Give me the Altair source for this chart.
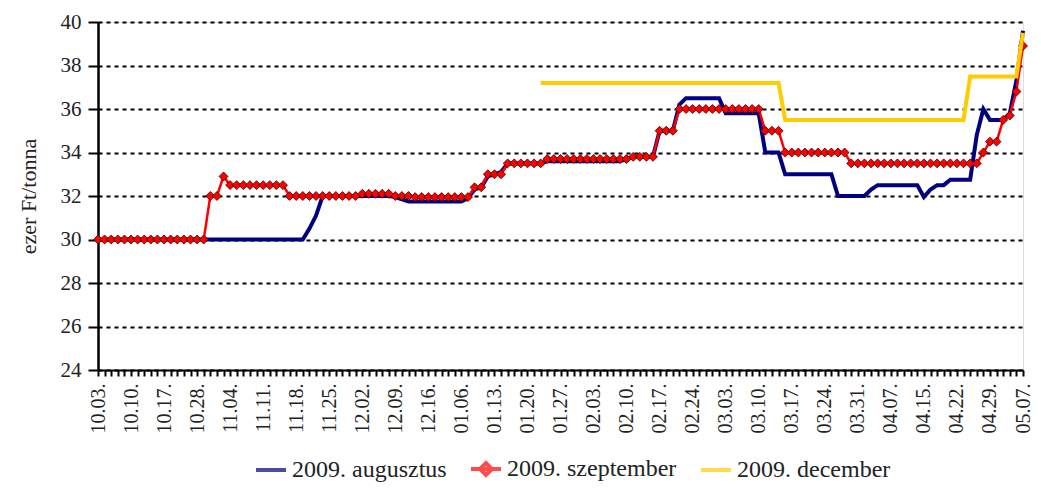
import altair as alt
import pandas as pd

SERIES = ["2009. augusztus", "2009. szeptember", "2009. december"]
COLORS = ["#000080", "#ff0000", "#ffcc00"]

TICK_LABELS = ["10.03.", "10.10.", "10.17.", "10.28.", "11.04.", "11.11.", "11.18.", "11.25.",
               "12.02.", "12.09.", "12.16.", "01.06.", "01.13.", "01.20.", "01.27.", "02.03.",
               "02.10.", "02.17.", "02.24.", "03.03.", "03.10.", "03.17.", "03.24.", "03.31.",
               "04.07.", "04.15.", "04.22.", "04.29.", "05.07."]

# one value per trading day (index 0 = 10.03., index 140 = 05.07.)
AUG = [
    30.0, 30.0, 30.0, 30.0, 30.0, 30.0, 30.0, 30.0, 30.0, 30.0,
    30.0, 30.0, 30.0, 30.0, 30.0, 30.0, 30.0, 30.0, 30.0, 30.0,
    30.0, 30.0, 30.0, 30.0, 30.0, 30.0, 30.0, 30.0, 30.0, 30.0,
    30.0, 30.0, 30.5, 31.1, 32.0, 32.0, 32.0, 32.0, 32.0, 32.0,
    32.0, 32.0, 32.0, 32.0, 32.0, 31.95, 31.85, 31.75, 31.75, 31.75,
    31.75, 31.75, 31.75, 31.75, 31.75, 31.75, 31.9, 32.3, 32.4, 32.9,
    33.0, 33.1, 33.5, 33.5, 33.5, 33.5, 33.5, 33.5, 33.6, 33.6,
    33.6, 33.6, 33.6, 33.6, 33.6, 33.6, 33.6, 33.6, 33.6, 33.6,
    33.7, 33.8, 33.8, 33.8, 33.8, 35.0, 35.0, 35.0, 36.2, 36.5,
    36.5, 36.5, 36.5, 36.5, 36.5, 35.8, 35.8, 35.8, 35.8, 35.8,
    35.8, 34.0, 34.0, 34.0, 33.0, 33.0, 33.0, 33.0, 33.0, 33.0,
    33.0, 33.0, 32.0, 32.0, 32.0, 32.0, 32.0, 32.3, 32.5, 32.5,
    32.5, 32.5, 32.5, 32.5, 32.5, 31.95, 32.3, 32.5, 32.5, 32.75,
    32.75, 32.75, 32.75, 34.8, 36.0, 35.5, 35.5, 35.5, 35.8, 37.3,
    39.6,
]
SZEPT = [
    30.0, 30.0, 30.0, 30.0, 30.0, 30.0, 30.0, 30.0, 30.0, 30.0,
    30.0, 30.0, 30.0, 30.0, 30.0, 30.0, 30.0, 32.0, 32.0, 32.9,
    32.5, 32.5, 32.5, 32.5, 32.5, 32.5, 32.5, 32.5, 32.5, 32.0,
    32.0, 32.0, 32.0, 32.0, 32.0, 32.0, 32.0, 32.0, 32.0, 32.0,
    32.1, 32.1, 32.1, 32.1, 32.1, 32.0, 32.0, 32.0, 31.95, 31.95,
    31.95, 31.95, 31.95, 31.95, 31.95, 31.95, 31.95, 32.4, 32.4, 33.0,
    33.0, 33.0, 33.5, 33.5, 33.5, 33.5, 33.5, 33.5, 33.7, 33.7,
    33.7, 33.7, 33.7, 33.7, 33.7, 33.7, 33.7, 33.7, 33.7, 33.7,
    33.7, 33.8, 33.8, 33.8, 33.8, 35.0, 35.0, 35.0, 36.0, 36.0,
    36.0, 36.0, 36.0, 36.0, 36.0, 36.0, 36.0, 36.0, 36.0, 36.0,
    36.0, 35.0, 35.0, 35.0, 34.0, 34.0, 34.0, 34.0, 34.0, 34.0,
    34.0, 34.0, 34.0, 34.0, 33.5, 33.5, 33.5, 33.5, 33.5, 33.5,
    33.5, 33.5, 33.5, 33.5, 33.5, 33.5, 33.5, 33.5, 33.5, 33.5,
    33.5, 33.5, 33.5, 33.5, 34.0, 34.5, 34.5, 35.5, 35.7, 36.8,
    38.9,
]
DEC = [
    None, None, None, None, None, None, None, None, None, None,
    None, None, None, None, None, None, None, None, None, None,
    None, None, None, None, None, None, None, None, None, None,
    None, None, None, None, None, None, None, None, None, None,
    None, None, None, None, None, None, None, None, None, None,
    None, None, None, None, None, None, None, None, None, None,
    None, None, None, None, None, None, None, 37.2, 37.2, 37.2,
    37.2, 37.2, 37.2, 37.2, 37.2, 37.2, 37.2, 37.2, 37.2, 37.2,
    37.2, 37.2, 37.2, 37.2, 37.2, 37.2, 37.2, 37.2, 37.2, 37.2,
    37.2, 37.2, 37.2, 37.2, 37.2, 37.2, 37.2, 37.2, 37.2, 37.2,
    37.2, 37.2, 37.2, 37.2, 35.5, 35.5, 35.5, 35.5, 35.5, 35.5,
    35.5, 35.5, 35.5, 35.5, 35.5, 35.5, 35.5, 35.5, 35.5, 35.5,
    35.5, 35.5, 35.5, 35.5, 35.5, 35.5, 35.5, 35.5, 35.5, 35.5,
    35.5, 35.5, 37.5, 37.5, 37.5, 37.5, 37.5, 37.5, 37.5, 37.5,
    39.5,
]
Y_TICKS = [24, 26, 28, 30, 32, 34, 36, 38, 40]

rows = []
for name, vals in zip(SERIES, [AUG, SZEPT, DEC]):
    for i, v in enumerate(vals):
        if v is not None:
            rows.append({"idx": i, "value": v, "series": name})
df = pd.DataFrame(rows)

FONT = "Liberation Serif"
TXT = "#222222"
lab_arr = "[" + ",".join("'" + t + "'" for t in TICK_LABELS) + "]"
label_expr = "datum.value % 5 === 0 ? " + lab_arr + "[datum.value / 5] : ''"

x_enc = alt.X("idx:Q", scale=alt.Scale(domain=[0, len(AUG) - 1], nice=False, zero=False),
              axis=alt.Axis(values=list(range(len(AUG))), labelExpr=label_expr, labelAngle=-90,
                            labelOverlap=False, labelFlush=False, labelBound=False,
                            labelFontSize=20, labelFont=FONT, labelColor=TXT,
                            labelPadding=7, tickSize=6, tickWidth=2, tickColor="black",
                            domainColor="black", domainWidth=2, grid=False, title=None))
y_enc = alt.Y("value:Q", scale=alt.Scale(domain=[24, 40], nice=False, zero=False),
              axis=alt.Axis(values=Y_TICKS, labelFontSize=21, labelFont=FONT, labelColor=TXT,
                            labelPadding=7, tickSize=10, tickWidth=2, tickColor="black",
                            domainColor="black", domainWidth=2.5,
                            grid=True, gridColor="black", gridDash=[4, 4], gridWidth=2,
                            title="ezer Ft/tonna", titleFont=FONT, titleFontSize=22,
                            titleFontWeight="normal", titleColor=TXT, titlePadding=20))

LEG = dict(title=None, orient="none", direction="horizontal",
           legendX=156, legendY=430, padding=0,
           symbolType="stroke", symbolStrokeWidth=4, symbolSize=900,
           labelFont=FONT, labelFontSize=24, labelColor=TXT, labelLimit=400,
           labelOffset=4, columnPadding=16, symbolOffset=0)

color_enc = alt.Color("series:N", sort=SERIES,
                      scale=alt.Scale(domain=SERIES, range=COLORS),
                      legend=alt.Legend(**LEG))
shape_enc = alt.Shape("series:N", sort=SERIES,
                      scale=alt.Scale(domain=SERIES,
                                      range=["stroke",
                                             "M-1,0L1,0M-0.4,0L0,-0.4L0.4,0L0,0.4Z",
                                             "stroke"]),
                      legend=alt.Legend(**LEG))

base = alt.Chart(df).encode(x=x_enc, y=y_enc)

blue = base.transform_filter(alt.datum.series == SERIES[0]).mark_line(strokeWidth=4).encode(color=color_enc)
red = base.transform_filter(alt.datum.series == SERIES[1]).mark_line(strokeWidth=2.5).encode(color=color_enc)
red_pts = base.transform_filter(alt.datum.series == SERIES[1]).mark_point(
    shape="diamond", filled=True, fill="#ff0000", stroke="#3a0000", strokeWidth=0.8,
    size=80, opacity=1)
yellow = base.transform_filter(alt.datum.series == SERIES[2]).mark_line(strokeWidth=4).encode(color=color_enc)
legend_shape = base.transform_filter("false").mark_point(filled=False).encode(shape=shape_enc, color=color_enc)

chart = alt.layer(blue, red, red_pts, yellow, legend_shape).properties(
    width=925, height=348,
    padding={"left": 9, "top": 3, "right": 0, "bottom": 5},
).configure_view(stroke=None).configure(background="white")

chart.save("out.html", embed_options={"renderer": "svg", "actions": False})
